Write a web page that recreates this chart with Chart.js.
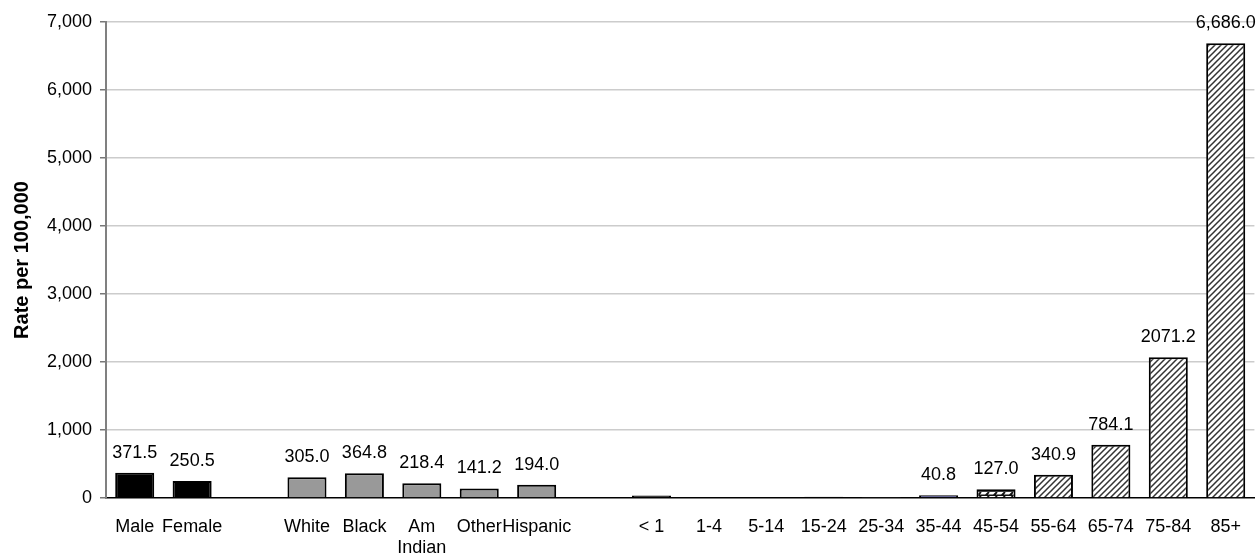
<!DOCTYPE html>
<html>
<head>
<meta charset="utf-8">
<script src="https://cdn.jsdelivr.net/npm/chart.js@4.4.1/dist/chart.umd.min.js"></script>
<style>
html,body{margin:0;padding:0;background:#fff;}
#wrap{width:1260px;height:558px;position:relative;}
</style>
</head>
<body>
<div id="wrap"><canvas id="c"></canvas></div>
<script>
// Categories (empty strings are the gaps between groups)
const categories = ["Male","Female","","White","Black",["Am","Indian"],"Other","Hispanic","",
  "< 1","1-4","5-14","15-24","25-34","35-44","45-54","55-64","65-74","75-84","85+"];
// Rate per 100,000
const rates = [371.5,250.5,null,305.0,364.8,218.4,141.2,194.0,null,
  35,1,1,20,15,40.8,127.0,340.9,784.1,2071.2,6686.0];
// Value labels shown above bars
const valueLabels = ["371.5","250.5",null,"305.0","364.8","218.4","141.2","194.0",null,
  null,null,null,null,null,"40.8","127.0","340.9","784.1","2071.2","6,686.0"];
// Fill style keys per bar
const fillKeys = ["black","black",null,"gray","gray","gray","gray","gray",null,
  "black","black","black","black","light","navy","zig","hatch","hatch","hatch","hatch"];
const yTicks = [0,1000,2000,3000,4000,5000,6000,7000];

const FONT = '"Liberation Sans", Arial, sans-serif';

function makeHatch(){
  const c=document.createElement('canvas'); c.width=6; c.height=6;
  const g=c.getContext('2d');
  g.fillStyle='#fff'; g.fillRect(0,0,6,6);
  g.strokeStyle='#333'; g.lineWidth=1.5;
  g.beginPath();
  g.moveTo(-1,7); g.lineTo(7,-1);
  g.moveTo(-4,4); g.lineTo(4,-4);
  g.moveTo(2,10); g.lineTo(10,2);
  g.stroke();
  return document.getElementById('c').getContext('2d').createPattern(c,'repeat');
}
function makeZig(){
  const c=document.createElement('canvas'); c.width=8; c.height=4;
  const g=c.getContext('2d');
  g.fillStyle='#fff'; g.fillRect(0,0,8,4);
  g.strokeStyle='#111'; g.lineWidth=1.8;
  g.beginPath(); g.moveTo(0,3.5); g.lineTo(8,3.5); g.moveTo(1,4); g.lineTo(5,0); g.stroke();
  return document.getElementById('c').getContext('2d').createPattern(c,'repeat');
}
const fills = {black:'#000000', gray:'#999999', light:'#c8c8c8', navy:'#4a4a88', hatch:makeHatch(), zig:makeZig()};
const bg = fillKeys.map(k => k ? fills[k] : 'rgba(0,0,0,0)');
const bc = fillKeys.map(k => k==='light' ? '#b0b0b0' : '#000');

const labelPlugin = {
  id:'valueLabels',
  afterDatasetsDraw(chart){
    const ctx=chart.ctx;
    const meta=chart.getDatasetMeta(0);
    ctx.save();
    ctx.font='18px '+FONT;
    ctx.fillStyle='#000';
    ctx.textAlign='center';
    ctx.textBaseline='bottom';
    meta.data.forEach((bar,i)=>{
      const t=valueLabels[i];
      if(!t) return;
      ctx.fillText(t, bar.x, bar.y-11);
    });
    ctx.restore();
  }
};

new Chart(document.getElementById('c'),{
  type:'bar',
  data:{
    labels:categories,
    datasets:[{
      data:rates,
      backgroundColor:bg,
      borderColor:bc,
      borderWidth:2,
      borderSkipped:'bottom',
      categoryPercentage:1.0,
      barPercentage:0.68
    }]
  },
  options:{
    responsive:true,
    maintainAspectRatio:false,
    animation:false,
    layout:{padding:{top:22,right:1,left:0,bottom:0}},
    plugins:{legend:{display:false},tooltip:{enabled:false},title:{display:false}},
    scales:{
      x:{
        afterFit(s){ s.height = 60; },
        grid:{display:true,drawOnChartArea:false,drawTicks:false},
        border:{display:true,color:'#000',width:1.5},
        ticks:{autoSkip:false,maxRotation:0,minRotation:0,padding:19,color:'#000',
          font:{family:FONT,size:18,lineHeight:1.15}}
      },
      y:{
        min:0,max:7000,
        afterFit(s){ s.width = 106; },
        afterBuildTicks(axis){ axis.ticks = yTicks.map(v=>({value:v})); },
        grid:{color:(c)=> c.tick && c.tick.value===0 ? 'rgba(0,0,0,0)' : '#cccccc',
              lineWidth:1.5,tickLength:6,tickColor:'#777'},
        border:{display:true,color:'#808080',width:2},
        ticks:{color:'#000',padding:8,
          font:{family:FONT,size:18},
          callback:(v)=>v.toLocaleString('en-US')},
        title:{display:true,text:'Rate per 100,000',color:'#000',
          font:{family:FONT,size:20,weight:'bold'},
          padding:{top:10,bottom:6}}
      }
    }
  },
  plugins:[labelPlugin]
});
</script>
</body>
</html>
